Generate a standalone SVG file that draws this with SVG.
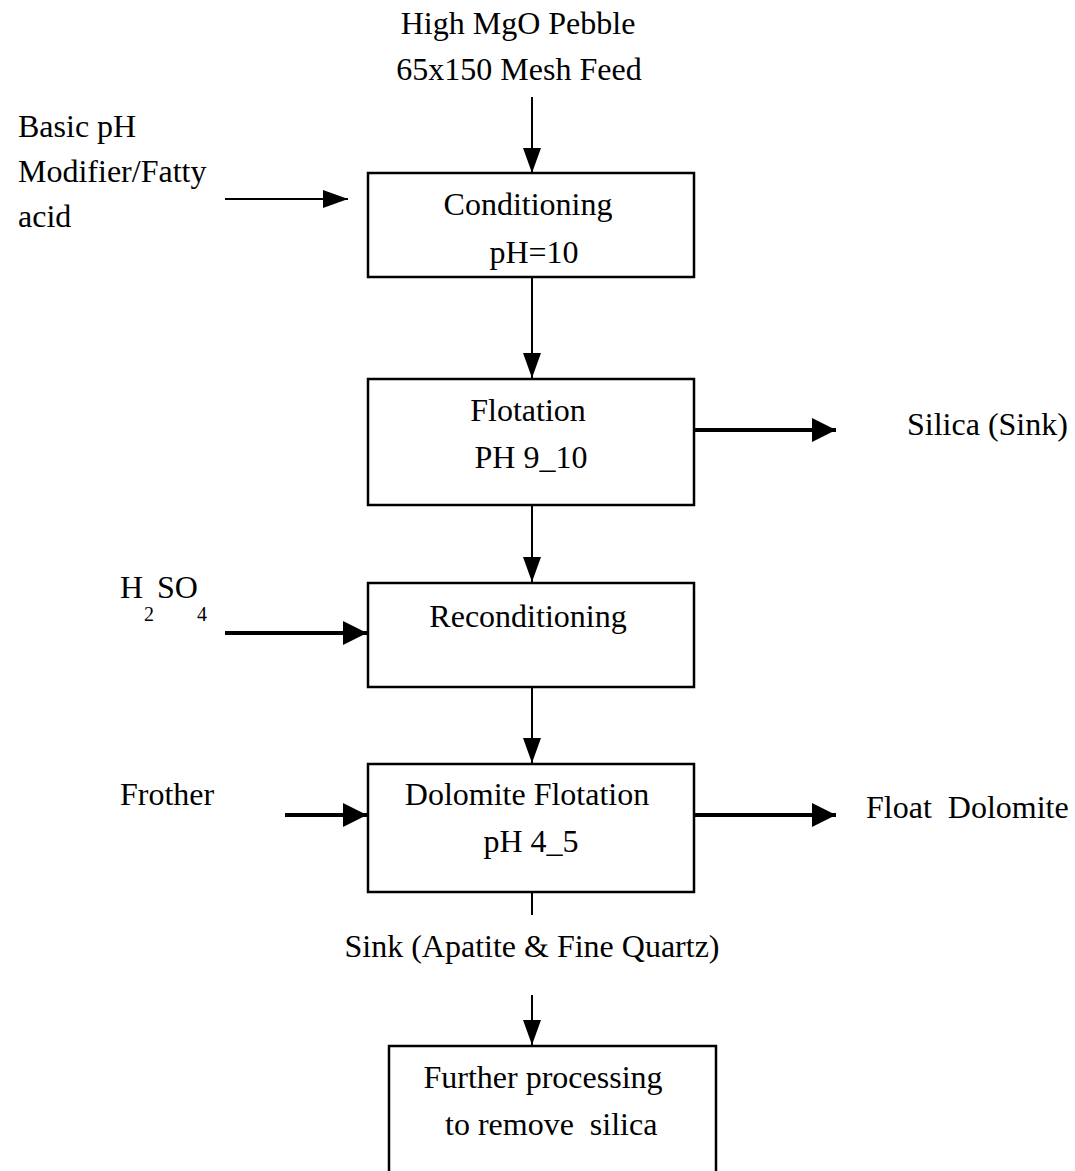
<svg xmlns="http://www.w3.org/2000/svg" width="1075" height="1171" viewBox="0 0 1075 1171">
<defs>
<style>
text{font-family:"Liberation Serif","Times New Roman",serif;font-size:32px;fill:#000;white-space:pre}
.c{text-anchor:middle}
.box{fill:#fff;stroke:#000;stroke-width:2.5}
.thin{stroke:#000;stroke-width:2;fill:none}
.thick{stroke:#000;stroke-width:4;fill:none}
.sub{font-size:20px}
</style>
<marker id="ah" markerUnits="userSpaceOnUse" markerWidth="26" markerHeight="26" viewBox="0 0 26 26" refX="25" refY="13" orient="auto">
<path d="M0,4 L25,13 L0,22 Z" fill="#000"/>
</marker>
<marker id="ahT" markerUnits="userSpaceOnUse" markerWidth="26" markerHeight="28" viewBox="0 0 26 28" refX="24" refY="14" orient="auto">
<path d="M0,2 L24,14 L0,26 Z" fill="#000"/>
</marker>
</defs>
<rect width="1075" height="1171" fill="#fff"/>

<g id="connectors">
<line class="thin" x1="532" y1="97" x2="532" y2="173" marker-end="url(#ah)"/>
<line class="thin" x1="532" y1="278" x2="532" y2="378" marker-end="url(#ah)"/>
<line class="thin" x1="532" y1="506" x2="532" y2="582" marker-end="url(#ah)"/>
<line class="thin" x1="532" y1="688" x2="532" y2="763" marker-end="url(#ah)"/>
<line class="thin" x1="532" y1="893" x2="532" y2="915"/>
<line class="thin" x1="532" y1="995" x2="532" y2="1045" marker-end="url(#ah)"/>
<line class="thin" x1="225" y1="199" x2="348" y2="199" marker-end="url(#ah)"/>
<line class="thick" x1="225" y1="633" x2="367" y2="633" marker-end="url(#ahT)"/>
<line class="thick" x1="285" y1="815" x2="367" y2="815" marker-end="url(#ahT)"/>
<line class="thick" x1="695" y1="430" x2="836" y2="430" marker-end="url(#ahT)"/>
<line class="thick" x1="695" y1="815" x2="836" y2="815" marker-end="url(#ahT)"/>
</g>

<g id="feed">
<text class="c" x="518" y="34">High MgO Pebble</text>
<text class="c" x="519" y="80">65x150 Mesh Feed</text>
</g>

<g id="basic-ph">
<text x="18" y="137">Basic pH</text>
<text x="18" y="182">Modifier/Fatty</text>
<text x="18" y="227">acid</text>
</g>

<g id="conditioning">
<rect class="box" x="368" y="173" width="326" height="104"/>
<text class="c" x="528" y="215">Conditioning</text>
<text class="c" x="534" y="263">pH=10</text>
</g>

<g id="flotation">
<rect class="box" x="368" y="379" width="326" height="126"/>
<text class="c" x="528" y="421">Flotation</text>
<text class="c" x="531" y="468">PH 9_10</text>
</g>

<g id="silica-sink">
<text x="907" y="435">Silica (Sink)</text>
</g>

<g id="h2so4">
<text x="120" y="598">H</text>
<text class="sub" x="144" y="621">2</text>
<text x="157" y="598">SO</text>
<text class="sub" x="197" y="621">4</text>
</g>

<g id="reconditioning">
<rect class="box" x="368" y="583" width="326" height="104"/>
<text class="c" x="528" y="627">Reconditioning</text>
</g>

<g id="frother">
<text x="120" y="805">Frother</text>
</g>

<g id="dolomite-flotation">
<rect class="box" x="368" y="764" width="326" height="128"/>
<text class="c" x="527" y="805">Dolomite Flotation</text>
<text class="c" x="531" y="852">pH 4_5</text>
</g>

<g id="float-dolomite">
<text x="866" y="818">Float  Dolomite</text>
</g>

<g id="sink">
<text class="c" x="532" y="957">Sink (Apatite &amp; Fine Quartz)</text>
</g>

<g id="further-processing">
<rect class="box" x="389" y="1046" width="327" height="140"/>
<text class="c" x="543" y="1088">Further processing</text>
<text x="445" y="1135">to remove  silica</text>
</g>
</svg>
